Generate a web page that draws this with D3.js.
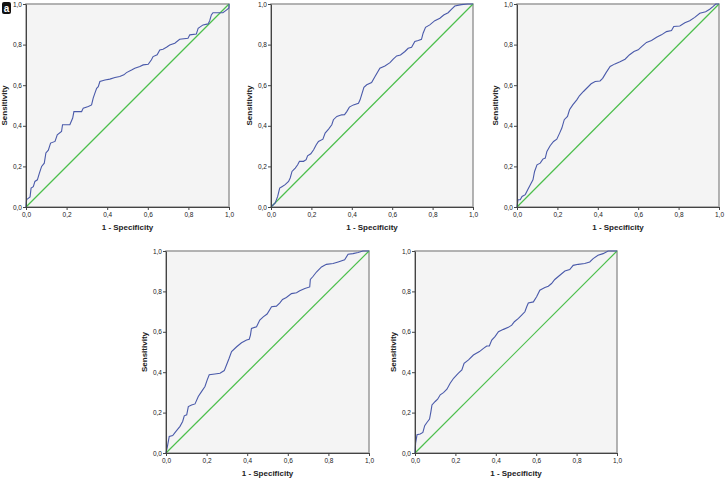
<!DOCTYPE html>
<html>
<head>
<meta charset="utf-8">
<script src="https://cdn.jsdelivr.net/npm/d3@7"></script>
<style>
  body { margin: 0; background: #fff; }
  svg { display: block; font-family: "Liberation Sans", Arial, sans-serif; }
</style>
</head>
<body>
<div id="chart"></div>
<script>
// ROC curves: [1 - specificity, sensitivity]
var roc1 = [
  [0,0],[0.003,0.036],[0.02,0.05],[0.025,0.093],[0.036,0.10],[0.044,0.126],[0.056,0.134],
  [0.066,0.167],[0.077,0.2],[0.09,0.216],[0.098,0.266],[0.11,0.28],[0.121,0.315],[0.143,0.323],
  [0.154,0.356],[0.175,0.372],[0.18,0.405],[0.216,0.405],[0.23,0.438],[0.236,0.47],[0.274,0.47],
  [0.282,0.487],[0.307,0.495],[0.323,0.503],[0.331,0.536],[0.339,0.56],[0.348,0.585],[0.356,0.593],
  [0.364,0.618],[0.389,0.626],[0.413,0.63],[0.438,0.638],[0.462,0.643],[0.482,0.651],[0.495,0.662],
  [0.52,0.675],[0.536,0.684],[0.561,0.692],[0.577,0.7],[0.602,0.703],[0.618,0.725],[0.626,0.741],
  [0.646,0.75],[0.659,0.774],[0.675,0.777],[0.692,0.787],[0.708,0.798],[0.733,0.807],[0.757,0.826],
  [0.798,0.831],[0.807,0.848],[0.839,0.852],[0.848,0.88],[0.872,0.897],[0.897,0.902],[0.905,0.918],
  [0.913,0.946],[0.921,0.957],[0.97,0.957],[0.987,0.97],[1,0.98],[1,1]
];
var roc2 = [
  [0,0],[0.021,0.02],[0.033,0.052],[0.043,0.093],[0.054,0.10],[0.07,0.11],[0.087,0.126],[0.095,0.143],
  [0.104,0.175],[0.12,0.192],[0.132,0.208],[0.141,0.225],[0.161,0.225],[0.174,0.233],[0.181,0.252],
  [0.197,0.262],[0.211,0.282],[0.224,0.307],[0.235,0.323],[0.257,0.334],[0.268,0.364],[0.285,0.384],
  [0.301,0.405],[0.309,0.43],[0.326,0.446],[0.35,0.454],[0.364,0.455],[0.375,0.47],[0.388,0.492],
  [0.408,0.503],[0.433,0.511],[0.441,0.528],[0.46,0.59],[0.474,0.602],[0.498,0.613],[0.515,0.643],
  [0.539,0.684],[0.564,0.695],[0.589,0.711],[0.605,0.728],[0.622,0.744],[0.641,0.749],[0.663,0.766],
  [0.679,0.782],[0.696,0.787],[0.712,0.815],[0.729,0.82],[0.745,0.826],[0.753,0.856],[0.765,0.885],
  [0.786,0.897],[0.811,0.918],[0.836,0.93],[0.855,0.946],[0.877,0.957],[0.893,0.974],[0.91,0.99],
  [0.942,0.997],[0.974,1],[1,1]
];
var roc3 = [
  [0,0],[0.005,0.036],[0.016,0.036],[0.025,0.052],[0.041,0.061],[0.053,0.085],[0.066,0.11],[0.079,0.134],
  [0.087,0.175],[0.099,0.208],[0.115,0.216],[0.128,0.236],[0.14,0.241],[0.148,0.274],[0.164,0.302],
  [0.181,0.323],[0.197,0.334],[0.211,0.364],[0.222,0.389],[0.234,0.43],[0.25,0.446],[0.26,0.479],
  [0.276,0.503],[0.296,0.528],[0.309,0.548],[0.329,0.569],[0.345,0.585],[0.367,0.607],[0.387,0.618],
  [0.411,0.621],[0.424,0.634],[0.441,0.662],[0.461,0.692],[0.485,0.705],[0.51,0.716],[0.535,0.728],
  [0.556,0.749],[0.579,0.766],[0.6,0.774],[0.617,0.79],[0.641,0.811],[0.666,0.82],[0.691,0.836],
  [0.715,0.848],[0.74,0.864],[0.765,0.869],[0.776,0.889],[0.806,0.892],[0.831,0.908],[0.855,0.918],
  [0.88,0.934],[0.905,0.954],[0.934,0.962],[0.954,0.974],[0.97,0.987],[0.984,1],[1,1]
];
var roc4 = [
  [0,0],[0.007,0.033],[0.016,0.082],[0.033,0.086],[0.049,0.107],[0.069,0.132],[0.082,0.156],[0.09,0.184],
  [0.102,0.189],[0.11,0.23],[0.126,0.238],[0.143,0.243],[0.159,0.28],[0.175,0.304],[0.192,0.329],
  [0.203,0.362],[0.213,0.387],[0.241,0.391],[0.266,0.395],[0.287,0.408],[0.298,0.436],[0.311,0.469],
  [0.323,0.502],[0.348,0.526],[0.372,0.546],[0.397,0.559],[0.41,0.563],[0.416,0.584],[0.421,0.617],
  [0.446,0.625],[0.462,0.658],[0.479,0.674],[0.498,0.688],[0.52,0.724],[0.544,0.727],[0.561,0.743],
  [0.574,0.76],[0.593,0.77],[0.618,0.789],[0.643,0.793],[0.659,0.803],[0.684,0.814],[0.708,0.822],
  [0.711,0.859],[0.725,0.875],[0.741,0.896],[0.766,0.921],[0.79,0.934],[0.823,0.938],[0.848,0.946],
  [0.88,0.957],[0.897,0.984],[0.921,0.987],[0.946,0.993],[0.97,1],[1,1]
];
var roc5 = [
  [0,0],[0.003,0.049],[0.01,0.09],[0.026,0.094],[0.039,0.102],[0.048,0.135],[0.059,0.151],[0.072,0.168],
  [0.079,0.206],[0.084,0.238],[0.1,0.255],[0.112,0.266],[0.125,0.288],[0.141,0.299],[0.158,0.316],
  [0.174,0.345],[0.191,0.37],[0.215,0.395],[0.232,0.411],[0.243,0.444],[0.265,0.461],[0.289,0.485],
  [0.319,0.502],[0.339,0.518],[0.355,0.53],[0.368,0.53],[0.38,0.559],[0.396,0.576],[0.413,0.6],
  [0.438,0.612],[0.462,0.622],[0.479,0.633],[0.492,0.65],[0.512,0.666],[0.528,0.683],[0.544,0.699],
  [0.553,0.724],[0.561,0.743],[0.586,0.748],[0.602,0.773],[0.618,0.806],[0.643,0.819],[0.66,0.826],
  [0.676,0.839],[0.692,0.859],[0.717,0.88],[0.742,0.901],[0.766,0.908],[0.783,0.929],[0.808,0.934],
  [0.84,0.938],[0.865,0.946],[0.882,0.962],[0.906,0.979],[0.931,0.987],[0.956,1],[1,1]
];
var reference = [[0,0],[1,1]];
var tickValues = [0, 0.2, 0.4, 0.6, 0.8, 1.0];
var xTitle = "1 - Specificity";
var yTitle = "Sensitivity";

// panel plot areas: left, top, size
var panels = [
  {data: roc1, x: 26, y: 4, w: 203, h: 203},
  {data: roc2, x: 271, y: 4, w: 202, h: 203},
  {data: roc3, x: 517, y: 4, w: 202, h: 203},
  {data: roc4, x: 166, y: 251, w: 203, h: 202},
  {data: roc5, x: 415, y: 251, w: 202, h: 202}
];

var svg = d3.select("#chart").append("svg")
  .attr("width", 726)
  .attr("height", 479);

var fmt = function(d) { return d3.format(".1f")(d).replace(".", ","); };

panels.forEach(function(p) {
  var g = svg.append("g").attr("transform", "translate(" + p.x + "," + p.y + ")");
  var x = d3.scaleLinear().domain([0, 1]).range([0, p.w]);
  var y = d3.scaleLinear().domain([0, 1]).range([p.h, 0]);

  g.append("rect")
    .attr("width", p.w)
    .attr("height", p.h)
    .attr("fill", "#f4f4f4")
    .attr("stroke", "#9a9a9a")
    .attr("stroke-width", 1.5);

  var line = d3.line().x(function(d) { return x(d[0]); }).y(function(d) { return y(d[1]); });

  g.append("path")
    .datum(reference)
    .attr("d", line)
    .attr("fill", "none")
    .attr("stroke", "#4cbf4c")
    .attr("stroke-width", 1.2);

  g.append("path")
    .datum(p.data)
    .attr("d", line)
    .attr("fill", "none")
    .attr("stroke", "#4a5aaa")
    .attr("stroke-width", 1.1);

  var xAxis = g.append("g")
    .attr("transform", "translate(0," + p.h + ")")
    .call(d3.axisBottom(x).tickValues(tickValues).tickFormat(fmt).tickSize(3).tickSizeOuter(0));
  var yAxis = g.append("g")
    .call(d3.axisLeft(y).tickValues(tickValues).tickFormat(fmt).tickSize(3).tickSizeOuter(0));

  [xAxis, yAxis].forEach(function(a) {
    a.select(".domain").attr("stroke", "#444");
    a.selectAll(".tick line").attr("stroke", "#444");
    a.selectAll(".tick text")
      .attr("fill", "#222")
      .style("font-family", "'Liberation Sans', Arial, sans-serif")
      .style("font-size", "6.5px");
  });
  xAxis.selectAll(".tick text").attr("y", 5);
  yAxis.selectAll(".tick text").attr("x", -4);

  g.append("text")
    .attr("x", p.w / 2)
    .attr("y", p.h + 23)
    .attr("text-anchor", "middle")
    .attr("font-size", "8px")
    .attr("font-weight", "bold")
    .attr("fill", "#222")
    .text(xTitle);

  g.append("text")
    .attr("transform", "translate(-19," + (p.h / 2) + ") rotate(-90)")
    .attr("text-anchor", "middle")
    .attr("font-size", "8px")
    .attr("font-weight", "bold")
    .attr("fill", "#222")
    .text(yTitle);
});

// panel letter in the top left corner
svg.append("rect")
  .attr("x", 2).attr("y", 2).attr("width", 9).attr("height", 12)
  .attr("rx", 2)
  .attr("fill", "#111");
svg.append("text")
  .attr("x", 6.5).attr("y", 11.5)
  .attr("text-anchor", "middle")
  .attr("font-size", "10px")
  .attr("font-weight", "bold")
  .attr("fill", "#fff")
  .text("a");
</script>
</body>
</html>
